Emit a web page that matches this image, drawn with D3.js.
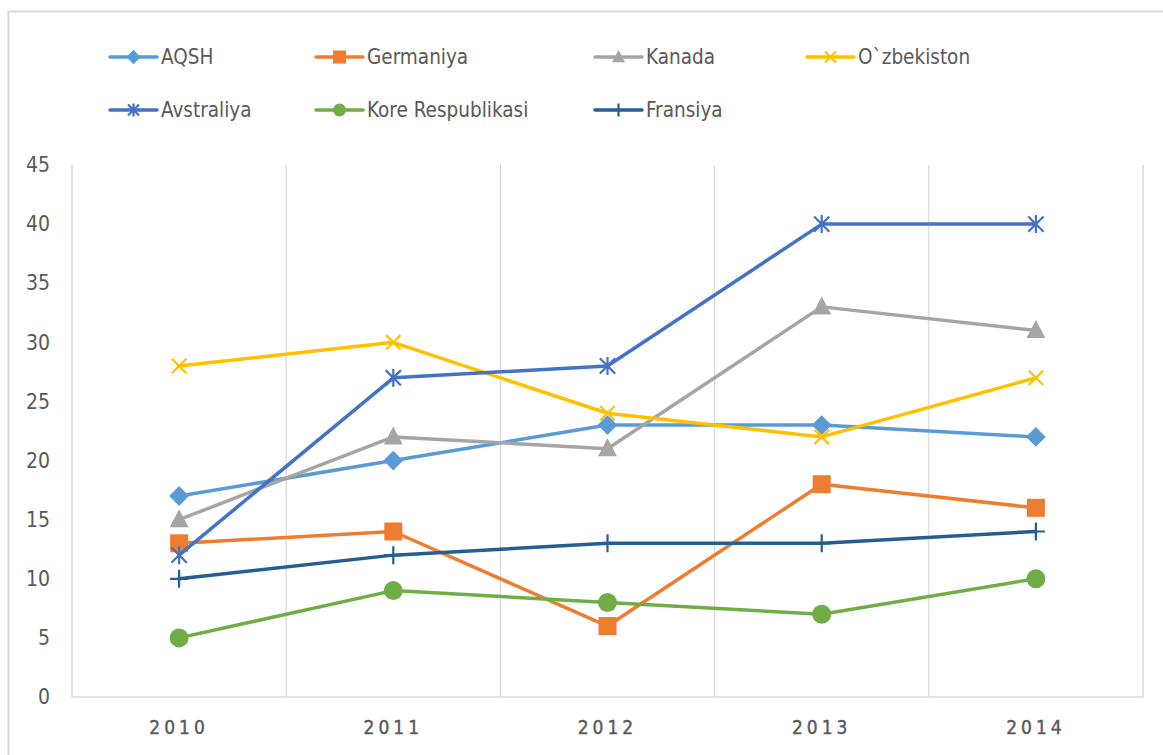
<!DOCTYPE html>
<html><head><meta charset="utf-8">
<script src="https://cdn.jsdelivr.net/npm/d3@7"></script>
<style>
body{margin:0;background:#fff;}
svg text{font-family:"Liberation Sans Narrow","DejaVu Sans Condensed","Roboto Condensed",sans-serif;fill:#595959;}
</style></head>
<body>
<svg id="c" width="1163" height="755"></svg>
<script>
const years = ["2010","2011","2012","2013","2014"];
const seriesNames = ["AQSH","Germaniya","Kanada","O`zbekiston","Avstraliya","Kore Respublikasi","Fransiya"];
const aqsh = [17,20,23,23,22];
const germaniya = [13,14,6,18,16];
const kanada = [15,22,21,33,31];
const ozbekiston = [28,30,24,22,27];
const avstraliya = [12,27,28,40,40];
const kore = [5,9,8,7,10];
const fransiya = [10,12,13,13,14];
const yTicks = [0,5,10,15,20,25,30,35,40,45];
const colors = ["#5B9BD5","#ED7D31","#A5A5A5","#FFC000","#4472C4","#70AD47","#255E91"];
const markers = ["diamond","square","triangle","x","star","circle","plus"];
const values = [aqsh,germaniya,kanada,ozbekiston,avstraliya,kore,fransiya];

const svg = d3.select("#c");
svg.append("rect").attr("x",8.5).attr("y",11.5).attr("width",1170).attr("height",760)
  .attr("fill","none").attr("stroke","#d9d9d9").attr("stroke-width",2);

const L=72, R=1143, T=165, B=697;
const x = d3.scaleBand().domain(years).range([L,R]).padding(0);
const y = d3.scaleLinear().domain([0,45]).range([B,T]);

const g = svg.append("g");
years.forEach((yr,i)=>{
  const xx = x(yr);
  if(i>0) g.append("line").attr("x1",xx).attr("x2",xx).attr("y1",T).attr("y2",B).attr("stroke","#d9d9d9").attr("stroke-width",1.2);
});
g.append("line").attr("x1",L).attr("x2",L).attr("y1",T).attr("y2",B).attr("stroke","#d9d9d9").attr("stroke-width",1.5);
g.append("line").attr("x1",R).attr("x2",R).attr("y1",T).attr("y2",B).attr("stroke","#d9d9d9").attr("stroke-width",1.5);
g.append("line").attr("x1",L).attr("x2",R).attr("y1",B).attr("y2",B).attr("stroke","#d9d9d9").attr("stroke-width",1.5);

const ya = svg.append("g").attr("transform",`translate(${L},0)`)
  .call(d3.axisLeft(y).tickValues(yTicks).tickSize(0).tickPadding(22));
ya.select(".domain").remove();
ya.selectAll("text").attr("font-size",21).attr("fill","#595959")
  .style("font-family",'"Liberation Sans Narrow","DejaVu Sans Condensed",sans-serif');

const xa = svg.append("g").attr("transform",`translate(0,${B})`)
  .call(d3.axisBottom(x).tickSize(0).tickPadding(24));
xa.select(".domain").remove();
xa.selectAll("text").attr("font-size",19).attr("fill","#595959")
  .attr("stroke","#595959").attr("stroke-width",0.4)
  .style("letter-spacing","4px")
  .style("font-family",'"Liberation Sans Narrow","DejaVu Sans Condensed",sans-serif');

function drawMarker(sel, type, cx, cy, color, s){
  const h = s/2;
  if(type==="diamond"){
    sel.append("path").attr("d",`M${cx},${cy-h*1.1}L${cx+h*1.1},${cy}L${cx},${cy+h*1.1}L${cx-h*1.1},${cy}Z`).attr("fill",color);
  } else if(type==="square"){
    sel.append("rect").attr("x",cx-h).attr("y",cy-h).attr("width",s).attr("height",s).attr("fill",color);
  } else if(type==="triangle"){
    sel.append("path").attr("d",`M${cx},${cy-h*1.1}L${cx+h},${cy+h*0.8}L${cx-h},${cy+h*0.8}Z`).attr("fill",color);
  } else if(type==="circle"){
    sel.append("circle").attr("cx",cx).attr("cy",cy).attr("r",h).attr("fill",color);
  } else if(type==="x"){
    const k=h*0.85;
    sel.append("path").attr("d",`M${cx-k},${cy-k}L${cx+k},${cy+k}M${cx-k},${cy+k}L${cx+k},${cy-k}`).attr("stroke",color).attr("stroke-width",2.2).attr("fill","none");
  } else if(type==="star"){
    const k=h*0.85;
    sel.append("path").attr("d",`M${cx-k},${cy-k}L${cx+k},${cy+k}M${cx-k},${cy+k}L${cx+k},${cy-k}M${cx},${cy-h}L${cx},${cy+h}`).attr("stroke",color).attr("stroke-width",2.2).attr("fill","none");
  } else if(type==="plus"){
    sel.append("path").attr("d",`M${cx},${cy-h}L${cx},${cy+h}M${cx-h},${cy}L${cx+h},${cy}`).attr("stroke",color).attr("stroke-width",2.2).attr("fill","none");
  }
}

const line = d3.line().x((d,i)=>x(years[i])+x.bandwidth()/2).y(d=>y(d));
const sizes = {diamond:18,square:18,triangle:19,circle:19,x:17,star:18,plus:18};
values.forEach((vals,si)=>{
  const sg = svg.append("g");
  sg.append("path").datum(vals).attr("d",line).attr("fill","none")
    .attr("stroke",colors[si]).attr("stroke-width",3.5).attr("stroke-linejoin","round").attr("stroke-linecap","round");
  vals.forEach((v,i)=>{
    drawMarker(sg, markers[si], x(years[i])+x.bandwidth()/2, y(v), colors[si], sizes[markers[si]]);
  });
});

const legendPos = [[110,57],[316,57],[595,57],[807,57],[110,110],[316,110],[595,110]];
const lg = svg.append("g");
seriesNames.forEach((name,i)=>{
  const [lx,ly] = legendPos[i];
  lg.append("line").attr("x1",lx).attr("x2",lx+47).attr("y1",ly).attr("y2",ly)
    .attr("stroke",colors[i]).attr("stroke-width",3.5).attr("stroke-linecap","round");
  drawMarker(lg, markers[i], lx+23.5, ly, colors[i], 13);
  lg.append("text").attr("x",lx+51).attr("y",ly).attr("dy","0.36em").attr("font-size",20.5).text(name);
});
</script>
</body></html>
